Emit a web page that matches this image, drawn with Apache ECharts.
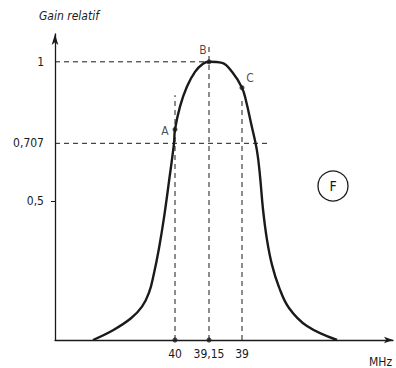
<!DOCTYPE html>
<html>
<head>
<meta charset="utf-8">
<script src="https://cdn.jsdelivr.net/npm/echarts@6/dist/echarts.min.js"></script>
<style>
  html, body { margin: 0; padding: 0; background: #fff; }
  #chart { width: 396px; height: 368px; }
</style>
</head>
<body>
<div id="chart"></div>
<script>
// x is a position along the (reversed, non-linear) frequency axis
const curveX = [38, 58, 76, 87, 94, 99, 104, 109, 114, 119, 120, 125, 132, 140, 148, 154, 167, 177, 187, 191, 196, 202, 205, 208, 212, 217, 224, 234, 252, 282];
const curveY = [0, 0.035, 0.078, 0.12, 0.17, 0.24, 0.33, 0.44, 0.57, 0.707, 0.757, 0.839, 0.911, 0.964, 0.993, 1.0, 0.996, 0.964, 0.907, 0.86, 0.78, 0.68, 0.59, 0.47, 0.36, 0.27, 0.19, 0.115, 0.05, 0];

const xTickPos = [120, 154, 187];
const xTickLabels = ['40', '39,15', '39'];
const yTickValues = [0.5, 0.707, 1];
const yTickLabels = ['0,5', '0,707', '1'];

const pointNames = ['A', 'B', 'C'];
const pointX = [120, 154, 187];
const pointY = [0.757, 1.0, 0.907];
const axisDotX = [120, 154];

// dashed guides
const hGuideY = [1, 0.707];
const hGuideEnd = [155, 213];
const vGuideX = [120, 154, 187];
const vGuideTop = [0.88, 1.06, 0.87];

const font = "'DejaVu Sans Condensed', 'Liberation Sans Narrow', 'DejaVu Sans', sans-serif";
const ink = '#1a1a1a';

const chart = echarts.init(document.getElementById('chart'), null, { renderer: 'svg' });

const dashStyle = { color: ink, width: 1, type: [5, 4] };
const guideSeries = [];
hGuideY.forEach((y, i) => {
  guideSeries.push({
    type: 'line', data: [[0, y], [hGuideEnd[i], y]], symbol: 'none',
    lineStyle: dashStyle, silent: true, z: 1
  });
});
vGuideX.forEach((x, i) => {
  guideSeries.push({
    type: 'line', data: [[x, 0], [x, vGuideTop[i]]], symbol: 'none',
    lineStyle: dashStyle, silent: true, z: 1
  });
});

const labelOffsets = [[-10, 2], [-6, -12], [8, -10]];

const option = {
  backgroundColor: '#fff',
  animation: false,
  title: {
    text: 'Gain relatif',
    left: 34, top: 5,
    textStyle: { fontFamily: font, fontStyle: 'italic', fontWeight: 'normal', fontSize: 12, color: ink }
  },
  grid: { left: 55, right: 3, top: 34, bottom: 26 },
  xAxis: {
    type: 'value', min: 0, max: 338,
    name: 'MHz', nameLocation: 'end', nameGap: -24,
    nameTextStyle: { fontFamily: font, fontSize: 12, color: ink, verticalAlign: 'top', padding: [16, 0, 0, 0] },
    axisLine: { lineStyle: { color: ink, width: 1.3 }, symbol: ['none', 'arrow'], symbolSize: [5, 9] },
    axisTick: { show: false },
    splitLine: { show: false },
    axisLabel: {
      customValues: xTickPos,
      formatter: v => xTickLabels[xTickPos.indexOf(v)],
      fontFamily: font, fontSize: 12, color: ink, margin: 8
    }
  },
  yAxis: {
    type: 'value', min: 0, max: 1.1,
    axisLine: { show: true, lineStyle: { color: ink, width: 1.3 }, symbol: ['none', 'arrow'], symbolSize: [5, 11] },
    axisTick: { show: true, customValues: [0.5], length: 4, lineStyle: { color: ink } },
    splitLine: { show: false },
    axisLabel: {
      customValues: yTickValues,
      formatter: v => yTickLabels[yTickValues.indexOf(v)],
      fontFamily: font, fontSize: 12, color: ink, margin: 11
    }
  },
  graphic: [
    { type: 'circle', shape: { cx: 333, cy: 186, r: 15 }, style: { fill: 'none', stroke: ink, lineWidth: 1.3 } },
    { type: 'text', x: 333, y: 186, style: { text: 'F', fontFamily: font, fontSize: 14, fill: ink, align: 'center', verticalAlign: 'middle' } }
  ],
  series: [
    ...guideSeries,
    {
      type: 'line',
      data: curveX.map((x, i) => [x, curveY[i]]),
      smooth: 0.4,
      symbol: 'none',
      lineStyle: { color: ink, width: 2.4 },
      z: 3
    },
    {
      type: 'scatter',
      data: pointX.map((x, i) => ({
        value: [x, pointY[i]],
        label: {
          show: true, formatter: pointNames[i], position: 'inside', offset: labelOffsets[i],
          color: ink, fontFamily: font, fontSize: 12, textBorderWidth: 0
        }
      })),
      symbolSize: 5,
      itemStyle: { color: ink },
      z: 4
    },
    {
      type: 'scatter',
      data: axisDotX.map(x => [x, 0]),
      symbolSize: 5,
      itemStyle: { color: ink },
      z: 4
    }
  ]
};

chart.setOption(option);
</script>
</body>
</html>
